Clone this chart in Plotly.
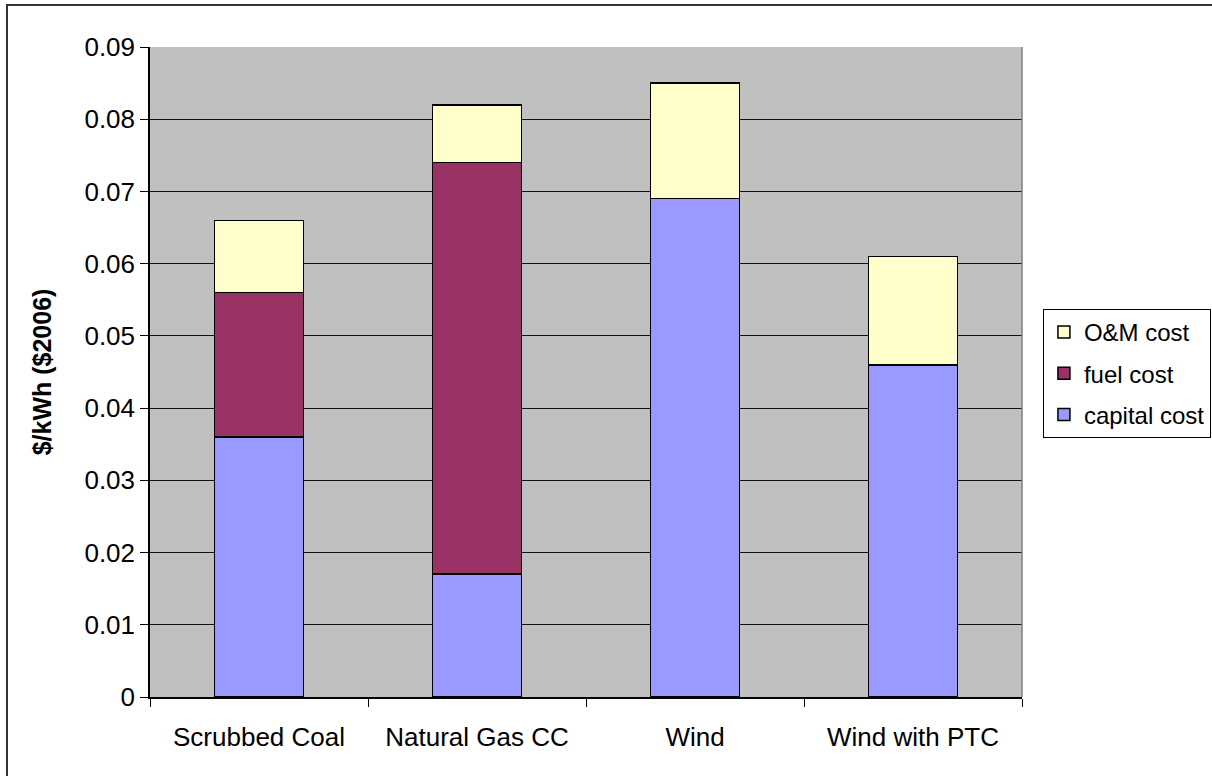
import plotly.graph_objects as go

categories = ["Scrubbed Coal", "Natural Gas CC", "Wind", "Wind with PTC"]
capital_cost = [0.036, 0.017, 0.069, 0.046]
fuel_cost = [0.020, 0.057, 0.0, 0.0]
om_cost = [0.010, 0.008, 0.016, 0.015]
y_ticks = [0, 0.01, 0.02, 0.03, 0.04, 0.05, 0.06, 0.07, 0.08, 0.09]
y_tick_labels = ["0", "0.01", "0.02", "0.03", "0.04", "0.05", "0.06", "0.07", "0.08", "0.09"]

line = dict(color="black", width=1.5)
fig = go.Figure()
fig.add_trace(go.Bar(name="capital cost", x=categories, y=capital_cost, legendrank=3,
                     legendgroup="cap", marker=dict(color="#9999FF", line=line)))
fig.add_trace(go.Bar(name="fuel cost", x=categories, y=fuel_cost, legendrank=2,
                     legendgroup="fuel", marker=dict(color="#993366", line=line)))
fig.add_trace(go.Bar(name="O&M cost", x=categories, y=om_cost, legendrank=1,
                     legendgroup="om", marker=dict(color="#FFFFCC", line=line)))

font = "Liberation Sans, Arial, sans-serif"
fig.update_layout(
    width=1212, height=776,
    barmode="stack", bargap=0.59,
    paper_bgcolor="white", plot_bgcolor="#C0C0C0",
    margin=dict(l=150, r=190, t=47, b=79, autoexpand=False),
    font=dict(family=font, size=26, color="black"),
    showlegend=True,
    legend=dict(traceorder="grouped", x=1.024, xanchor="left", y=0.597, yanchor="top",
                bgcolor="white", bordercolor="black", borderwidth=1,
                font=dict(size=24), itemwidth=30, tracegroupgap=7),
    xaxis=dict(showgrid=False, ticks="outside", ticklen=8, tickcolor="black",
               tickson="boundaries", showline=True, linecolor="black", linewidth=1.5,
               ticklabelstandoff=16, tickfont=dict(size=26)),
    yaxis=dict(range=[0, 0.09], tickvals=y_ticks, ticktext=y_tick_labels,
               showgrid=True, gridcolor="#111111", gridwidth=1,
               ticks="outside", ticklen=8, tickcolor="black",
               showline=True, linecolor="black", linewidth=1.5,
               zeroline=False, tickfont=dict(size=26),
               title=dict(text="<b>$/kWh ($2006)</b>", font=dict(size=25), standoff=26)),
    shapes=[
        dict(type="rect", xref="paper", yref="paper", x0=1.0, x1=1.0, y0=0, y1=1,
             line=dict(color="#808080", width=1.5)),
        dict(type="rect", xref="paper", yref="paper", x0=-0.164, x1=1.3, y0=1.0646, y1=-0.3,
             line=dict(color="#333333", width=2)),
    ],
)
fig.write_html("out.html", config={"displayModeBar": False},
               post_script="document.body.style.margin='0';")
